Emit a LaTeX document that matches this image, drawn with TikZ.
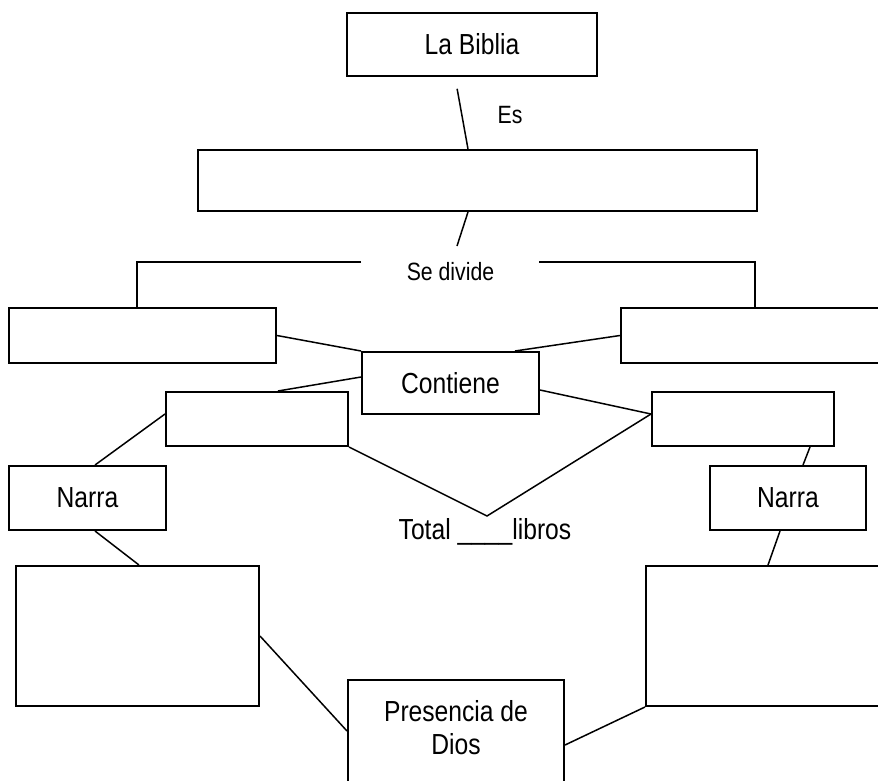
\documentclass[tikz,border=0pt]{standalone}
\usepackage{fontspec}
\setmainfont{Liberation Sans}[FakeStretch=0.85]
\begin{document}
\begin{tikzpicture}[x=1pt,y=-1pt,
  box/.style={draw=black, line width=2pt, rectangle, inner sep=0pt},
  txt/.style={font=\fontsize{29}{33}\selectfont, inner sep=0pt},
  small/.style={font=\fontsize{25}{28}\selectfont, inner sep=0pt},
  conn/.style={draw=black, line width=1.5pt}]
\useasboundingbox (0,0) rectangle (878,780);
\fill[white] (0,0) rectangle (878,780);
\begin{scope}
\clip (0,0) rectangle (878,780);
% boxes
\node[box, txt, minimum width=250pt, minimum height=63pt] (bib) at (472,44.5) {La Biblia};
\node[box, minimum width=559pt, minimum height=61pt] (wide) at (477.5,180.5) {};
\node[box, minimum width=267pt, minimum height=55pt] (lbox) at (142.5,335.5) {};
\node[box, minimum width=279pt, minimum height=55pt] (rbox) at (760.5,335.5) {};
\node[box, txt, minimum width=177pt, minimum height=62pt] (cont) at (450.5,383) {Contiene};
\node[box, minimum width=182pt, minimum height=54pt] (l2) at (257,419) {};
\node[box, minimum width=182pt, minimum height=54pt] (r2) at (743,419) {};
\node[box, txt, minimum width=157pt, minimum height=64pt] (nl) at (87.5,498) {Narra};
\node[box, txt, minimum width=156pt, minimum height=64pt] (nr) at (788,498) {Narra};
\node[box, minimum width=243pt, minimum height=140pt] (bl) at (137.5,636) {};
\node[box, minimum width=254pt, minimum height=140pt] (br) at (773,636) {};
\node[box, minimum width=216pt, minimum height=130pt] (pres) at (456,745) {};
\node[txt, align=center] (prestxt) at (456,728) {Presencia de\\Dios};
% labels
\node[small] (es) at (510,115) {Es};
\node[small] (div) at (450.5,272) {Se divide};
\node[txt] (total) at (485,532) {Total \_\_\_\_libros};
% coordinates
\coordinate (esend) at (457,246);
\coordinate (brL) at (361,262);
\coordinate (brR) at (539,262);
\coordinate (vtx) at (487,516);
% connectors
\draw[conn, shorten <=12pt] ([xshift=-17pt]bib.south) -- ([xshift=-9.5pt]wide.north);
\draw[conn] ([xshift=-9.5pt]wide.south) -- (esend);
\draw[conn] (brL) -| ([xshift=-5.5pt]lbox.north);
\draw[conn] (brR) -| ([xshift=-5.5pt]rbox.north);
\draw[conn] (lbox.east) -- (cont.north west);
\draw[conn] (rbox.west) -- ([xshift=64.5pt]cont.north);
\draw[conn] ([yshift=6pt]cont.west) -- ([xshift=21pt]l2.north);
\draw[conn] ([yshift=-7pt]cont.east) -- ([yshift=5pt]r2.west);
\draw[conn] ([yshift=5pt]l2.west) -- ([xshift=7.5pt]nl.north);
\draw[conn] (l2.south east) -- (vtx) -- ([yshift=5pt]r2.west);
\draw[conn] ([xshift=67pt]r2.south) -- ([xshift=15pt]nr.north);
\draw[conn] ([xshift=7.5pt]nl.south) -- ([xshift=1.5pt]bl.north);
\draw[conn] ([xshift=-8pt]nr.south) -- ([xshift=-5pt]br.north);
\draw[conn] (bl.east) -- ([yshift=14pt]pres.west);
\draw[conn] (pres.east) -- (br.south west);
\end{scope}
\end{tikzpicture}
\end{document}
